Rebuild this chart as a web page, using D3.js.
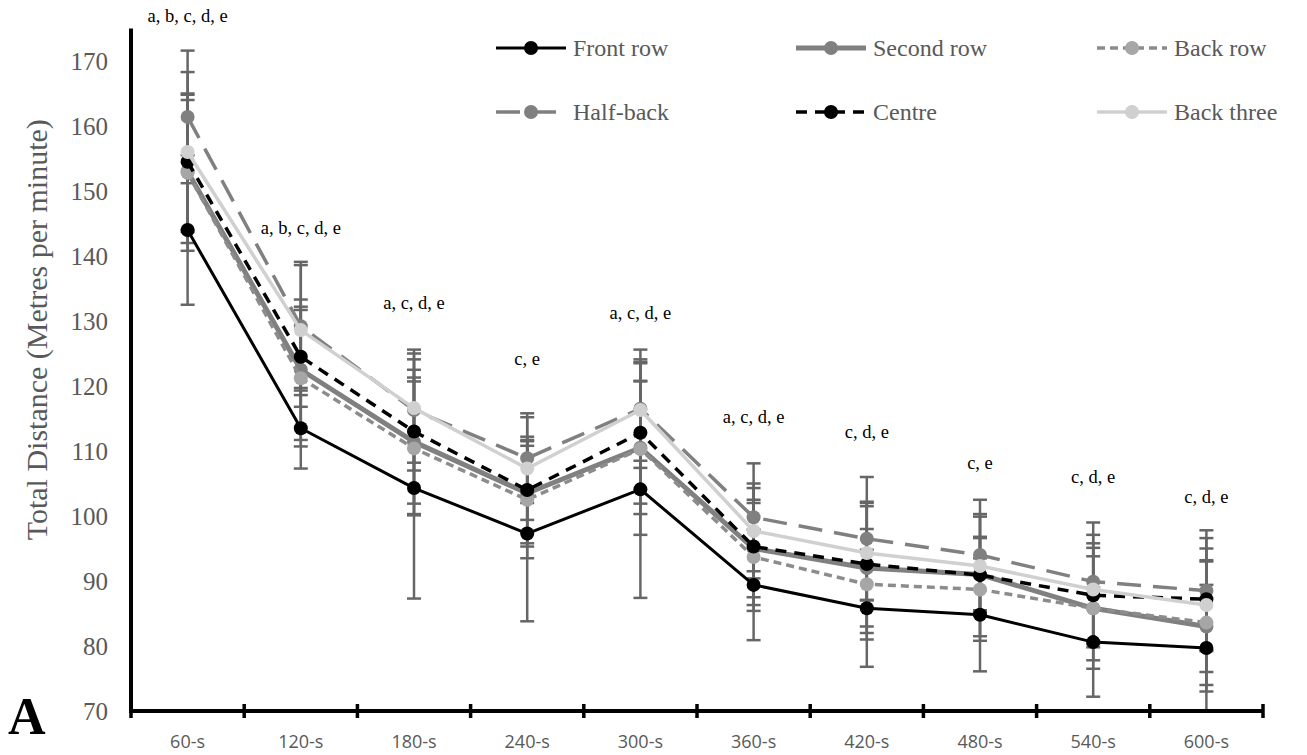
<!DOCTYPE html>
<html>
<head>
<meta charset="utf-8">
<script src="https://cdn.jsdelivr.net/npm/d3@7/dist/d3.min.js"></script>
<style>
  html, body { margin: 0; padding: 0; background: #fff; }
  svg { display: block; }
</style>
</head>
<body>
<svg id="chart" width="1307" height="755"></svg>
<script>
// ---------- data ----------
const categories = ["60-s","120-s","180-s","240-s","300-s","360-s","420-s","480-s","540-s","600-s"];
const yTicks = [70, 80, 90, 100, 110, 120, 130, 140, 150, 160, 170];
const seriesNames = ["Front row","Second row","Back row","Half-back","Centre","Back three"];

const frontRow     = [144.0, 113.5, 104.3, 97.3, 104.1, 89.4, 85.8, 84.8, 80.6, 79.7];
const frontRowSD   = [11.5, 6.2, 17.0, 13.5, 16.7, 8.5, 9.0, 8.7, 8.4, 9.7];
const secondRow    = [153.0, 122.5, 111.4, 103.5, 110.5, 95.0, 92.0, 91.0, 85.8, 83.0];
const secondRowSD  = [11.0, 10.8, 11.1, 8.2, 10.2, 7.5, 10.0, 5.8, 8.0, 10.0];
const backRow      = [152.8, 121.2, 110.4, 102.5, 110.3, 93.7, 89.5, 88.7, 85.8, 83.6];
const backRowSD    = [12.0, 10.5, 10.3, 9.0, 13.2, 8.3, 8.5, 7.9, 9.3, 9.6];
const halfBack     = [161.4, 129.2, 116.3, 108.9, 116.5, 99.8, 96.5, 94.0, 89.9, 88.5];
const halfBackSD   = [10.2, 9.9, 9.3, 6.9, 9.1, 8.3, 9.5, 8.5, 9.1, 9.3];
const centre       = [154.5, 124.5, 113.0, 104.0, 112.8, 95.3, 92.6, 90.9, 87.8, 87.2];
const centreSD     = [10.5, 7.7, 11.1, 8.2, 10.9, 9.0, 9.6, 9.4, 8.0, 7.8];
const backThree    = [156.0, 128.6, 116.6, 107.3, 116.3, 97.7, 94.3, 92.3, 88.7, 86.3];
const backThreeSD  = [12.3, 10.0, 8.4, 7.9, 7.8, 7.3, 7.2, 7.6, 8.4, 10.3];

const sigLabels = ["a, b, c, d, e","a, b, c, d, e","a, c, d, e","c, e","a, c, d, e","a, c, d, e","c, d, e","c, e","c, d, e","c, d, e"];
const sigLevel  = [176.9, 144.3, 132.8, 124.2, 131.2, 115.2, 112.9, 108.2, 106.0, 102.9];

const yTitle = "Total Distance (Metres per minute)";
const panelLabel = "A";

// ---------- styles ----------
const styles = [
  { line: "#000000", marker: "#000000", width: 3,   dash: null },
  { line: "#808080", marker: "#808080", width: 5,   dash: null },
  { line: "#8c8c8c", marker: "#a6a6a6", width: 3.5, dash: "8,5" },
  { line: "#808080", marker: "#808080", width: 3.5, dash: "24,12" },
  { line: "#000000", marker: "#000000", width: 3.5, dash: "11,8" },
  { line: "#d0d0d0", marker: "#d0d0d0", width: 3.5, dash: null }
];
const seriesValues = [frontRow, secondRow, backRow, halfBack, centre, backThree];
const seriesSD = [frontRowSD, secondRowSD, backRowSD, halfBackSD, centreSD, backThreeSD];
const series = seriesNames.map((name, i) => ({
  name, style: styles[i],
  points: categories.map((c, j) => ({ c, v: seriesValues[i][j], sd: seriesSD[i][j] }))
}));

(function draw() {
  const svg = d3.select("#chart");
  const pLeft = 131, pRight = 1263, pTop = 28.5, pBottom = 711;

  const x = d3.scaleBand().domain(categories).range([pLeft, pRight]).padding(0);
  const y = d3.scaleLinear().domain([70, 175]).range([pBottom, pTop]);
  const cx = c => x(c) + x.bandwidth() / 2;

  // error bars (behind)
  const eb = svg.append("g").attr("stroke", "#666666").attr("stroke-width", 2.5);
  series.forEach(s => {
    s.points.forEach(p => {
      const xc = cx(p.c);
      const y1 = y(p.v + p.sd), y2 = y(Math.max(70, p.v - p.sd));
      eb.append("line").attr("x1", xc).attr("x2", xc).attr("y1", y1).attr("y2", y2);
      eb.append("line").attr("x1", xc - 7).attr("x2", xc + 7).attr("y1", y1).attr("y2", y1);
      eb.append("line").attr("x1", xc - 7).attr("x2", xc + 7).attr("y1", y2).attr("y2", y2);
    });
  });

  // lines and markers
  const lineGen = d3.line().x(d => cx(d.c)).y(d => y(d.v));
  series.forEach(s => {
    const g = svg.append("g");
    g.append("path").datum(s.points)
      .attr("d", lineGen)
      .attr("fill", "none")
      .attr("stroke", s.style.line)
      .attr("stroke-width", s.style.width)
      .attr("stroke-dasharray", s.style.dash)
      .attr("stroke-linejoin", "round");
    g.selectAll("circle").data(s.points).enter().append("circle")
      .attr("cx", d => cx(d.c)).attr("cy", d => y(d.v)).attr("r", 7)
      .attr("fill", s.style.marker);
  });

  // y axis
  const yAxis = svg.append("g").attr("transform", `translate(${pLeft},0)`)
    .call(d3.axisLeft(y).tickValues(yTicks).tickSize(0).tickPadding(23).tickFormat(d3.format("d")));
  yAxis.select(".domain").remove();
  yAxis.selectAll("text").attr("fill", "#595959")
    .style("font-family", "'Liberation Serif','Times New Roman',serif").style("font-size", "25px");
  svg.append("line").attr("x1", pLeft).attr("x2", pLeft).attr("y1", pTop).attr("y2", pBottom + 2)
    .attr("stroke", "#000").attr("stroke-width", 4);

  // x axis
  const xAxis = svg.append("g").attr("transform", `translate(0,${pBottom})`)
    .call(d3.axisBottom(x).tickSize(0).tickPadding(0));
  xAxis.select(".domain").remove();
  xAxis.selectAll("text").attr("fill", "#595959").attr("dy", null).attr("y", 30)
    .attr("dominant-baseline", "central")
    .style("font-family", "'Liberation Sans Narrow','Open Sans',sans-serif").style("font-size", "18px");
  svg.append("line").attr("x1", pLeft - 2).attr("x2", pRight).attr("y1", pBottom).attr("y2", pBottom)
    .attr("stroke", "#000").attr("stroke-width", 4);
  const bounds = categories.map(c => x(c)).concat([pRight]);
  svg.append("g").selectAll("line").data(bounds).enter().append("line")
    .attr("x1", d => d).attr("x2", d => d).attr("y1", pBottom - 7).attr("y2", pBottom + 7)
    .attr("stroke", "#000").attr("stroke-width", 3.5);

  // significance labels
  svg.append("g").selectAll("text").data(categories).enter().append("text")
    .attr("x", c => cx(c)).attr("y", (c, i) => y(sigLevel[i]))
    .attr("text-anchor", "middle").attr("dominant-baseline", "central")
    .style("font-family", "'Liberation Serif','Times New Roman',serif").style("font-size", "18.5px")
    .attr("fill", "#000").text((c, i) => sigLabels[i]);

  // y title
  svg.append("text")
    .attr("transform", `translate(36,${(pTop + pBottom) / 2 - 40}) rotate(-90)`)
    .attr("text-anchor", "middle").attr("dominant-baseline", "central")
    .style("font-family", "'Liberation Serif','Times New Roman',serif").style("font-size", "30px")
    .attr("fill", "#595959").text(yTitle);

  // panel label
  svg.append("text").attr("x", 8).attr("y", 734)
    .style("font-family", "'Liberation Serif','Times New Roman',serif").style("font-size", "52px")
    .style("font-weight", "bold").attr("fill", "#000").text(panelLabel);

  // legend
  const legCols = [496, 796, 1097], legRows = [48, 112];
  const leg = svg.append("g");
  series.forEach((s, i) => {
    const lx = legCols[i % 3], ly = legRows[Math.floor(i / 3)];
    const g = leg.append("g").attr("transform", `translate(${lx},${ly})`);
    g.append("line").attr("x1", 0).attr("x2", 70).attr("y1", 0).attr("y2", 0)
      .attr("stroke", s.style.line).attr("stroke-width", s.style.width)
      .attr("stroke-dasharray", s.style.dash);
    g.append("circle").attr("cx", 35).attr("cy", 0).attr("r", 7).attr("fill", s.style.marker);
    g.append("text").attr("x", 77).attr("y", 0).attr("dominant-baseline", "central")
      .style("font-family", "'Liberation Serif','Times New Roman',serif").style("font-size", "24px")
      .attr("fill", "#595959").text(s.name);
  });
})();
</script>
</body>
</html>
